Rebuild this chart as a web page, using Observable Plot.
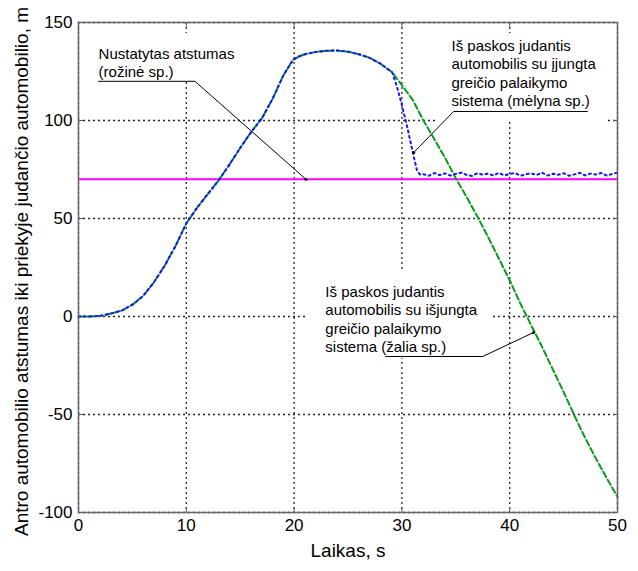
<!DOCTYPE html>
<html><head><meta charset="utf-8">
<script src="https://cdn.jsdelivr.net/npm/d3@7"></script>
<script src="https://cdn.jsdelivr.net/npm/@observablehq/plot@0.6"></script>
<style>body{margin:0;background:#fff} svg{display:block}</style>
</head><body><div id="chart"></div>
<script>
// shared part of both trajectories (curves overlap until ~29 s)
const sharedTime = [0,1,2,3,4,5,6,7,8,9,10,11,12,13,14,15,16,17,18,19,19.9,20.5,21,22,23,24,25,26,27,28,29.1];
const sharedDist = [0,0,0.3,1.5,3,6,10.5,17.5,26,36,47.5,55.5,62.5,69.5,77.5,86,94,101,111,123,131,132.8,133.8,135,135.6,135.7,135.1,133.8,132,129,124.6];
// blue: cruise control on
const blueTime = [29.5,29.9,30.5,31,31.4,31.7,32,32.5,33,33.5,34,34.5,35,35.5,36,36.5,37,37.5,38,38.5,39,39.5,40,40.5,41,41.5,42,42.5,43,43.5,44,44.5,45,45.5,46,46.5,47,47.5,48,48.5,49,49.5,50];
const blueDist = [118,110,96.6,84,74.5,72.3,72.6,71.8,73.2,72.1,73.0,71.9,72.8,73.4,72.2,71.7,73.1,72.4,72.9,71.9,73.3,72.0,72.7,73.2,71.8,72.6,73.0,72.2,73.4,71.9,72.8,72.3,73.1,71.8,72.5,73.3,72.0,72.9,72.4,73.2,71.9,72.7,73.4];
// green: cruise control off
const greenTime = [30,31,32,33,34,35,36,37,38,39,40,41,42,43,44,45,46,47,48,49,50];
const greenDist = [118,110.5,100,90.5,81,70.5,61,51,40.5,29.5,18.5,6.5,-4.5,-15.5,-27,-38.5,-50.5,-62,-72.5,-82.5,-92];
const setDistance = 70;
const xTicks = [0,10,20,30,40,50];
const yTicks = [-100,-50,0,50,100,150];
const xLabel = "Laikas, s";
const yLabel = "Antro automobilio atstumas iki priekyje judančio automobilio, m";
const annotationText = [
  "Nustatytas atstumas\n(rožinė sp.)",
  "Iš paskos judantis\nautomobilis su įjungta\ngreičio palaikymo\nsistema (mėlyna sp.)",
  "Iš paskos judantis\nautomobilis su išjungta\ngreičio palaikymo\nsistema (žalia sp.)"
];
const annotationX = [1.86, 34.6, 22.9];
const annotationY = [138.3, 142.3, 16.8];
// white backgrounds of the annotation text boxes
const boxX1 = [1.3, 33.4, 21.3];
const boxX2 = [14.7, 49.1, 38.4];
const boxY1 = [120.4, 99.0, -21.4];
const boxY2 = [144.4, 144.4, 23.5];
const leaderId = [0,0,0,1,1,1,2,2,2];
const leaderX = [1.86,10.8,21.1, 47.2,34.8,31.1, 28.5,37.5,42.2];
const leaderY = [120,120,70, 104.6,104.6,83.7, -20.4,-20.4,-8.2];

const blue = sharedTime.map((t,i)=>({t, d: sharedDist[i]})).concat(blueTime.map((t,i)=>({t, d: blueDist[i]})));
const green = sharedTime.map((t,i)=>({t, d: sharedDist[i]})).concat(greenTime.map((t,i)=>({t, d: greenDist[i]})));
const annotations = annotationText.map((s,i)=>({s, x: annotationX[i], y: annotationY[i]}));
const boxes = boxX1.map((x1,i)=>({x1, x2: boxX2[i], y1: boxY1[i], y2: boxY2[i]}));
const leaders = leaderId.map((id,i)=>({id, x: leaderX[i], y: leaderY[i]}));
const leaderEnds = leaders.filter((d,i)=> i%3===2);
const fmt = d => String(d);

const chart = Plot.plot({
  width: 638, height: 571,
  marginLeft: 78, marginTop: 22, marginRight: 21, marginBottom: 59,
  style: {fontFamily: "'Liberation Sans', Arial, sans-serif", fontSize: "17px", background: "#fff", color: "#000"},
  x: {domain: [0,50], ticks: xTicks},
  y: {domain: [-100,150], ticks: yTicks},
  marks: [
    Plot.gridX(xTicks, {stroke: "#000", strokeOpacity: 0.85, strokeWidth: 1.3, strokeDasharray: "2,3"}),
    Plot.gridY(yTicks, {stroke: "#000", strokeOpacity: 0.85, strokeWidth: 1.3, strokeDasharray: "2,3"}),
    Plot.axisX(xTicks, {anchor: "bottom", tickSize: 0, tickPadding: 6, label: null, fontSize: 17, tickFormat: fmt}),
    Plot.axisY(yTicks, {anchor: "left", tickSize: 0, tickPadding: 6, label: null, fontSize: 17, tickFormat: fmt}),
    Plot.axisX(xTicks, {anchor: "bottom", tickSize: 5, dy: -5, tickFormat: () => "", label: null, stroke: "#555"}),
    Plot.axisX(xTicks, {anchor: "top", tickSize: 5, dy: 5, tickFormat: () => "", label: null, stroke: "#555"}),
    Plot.axisY(yTicks, {anchor: "left", tickSize: 5, dx: 5, tickFormat: () => "", label: null, stroke: "#555"}),
    Plot.axisY(yTicks, {anchor: "right", tickSize: 5, dx: -5, tickFormat: () => "", label: null, stroke: "#555"}),
    Plot.rect(boxes, {x1: "x1", x2: "x2", y1: "y1", y2: "y2", fill: "#fff"}),
    Plot.ruleY([setDistance], {stroke: "#ff00ff", strokeWidth: 2}),
    Plot.line(green, {x: "t", y: "d", stroke: "#0a9a1e", strokeWidth: 2, strokeDasharray: "6,3"}),
    Plot.line(blue, {x: "t", y: "d", stroke: "#1515ff", strokeWidth: 2, strokeDasharray: "2,3.5"}),
    Plot.line(leaders, {x: "x", y: "y", z: "id", stroke: "#000", strokeWidth: 1}),
    Plot.dot(leaderEnds, {x: "x", y: "y", r: 1.5, fill: "#000", stroke: null}),
    Plot.text(annotations, {x: "x", y: "y", text: "s", textAnchor: "start", lineAnchor: "top", fontSize: 15, lineHeight: 1.23, fill: "#000"}),
    Plot.frame({stroke: "#666", strokeWidth: 1.5}),
    Plot.text([yLabel], {frameAnchor: "left", textAnchor: "middle", dx: -57, dy: 4, rotate: -90, fontSize: 19, fill: "#000"}),
    Plot.text([xLabel], {frameAnchor: "bottom", textAnchor: "middle", dy: 44, fontSize: 19, fill: "#000"})
  ]
});
document.getElementById("chart").append(chart);
</script>
</body></html>
